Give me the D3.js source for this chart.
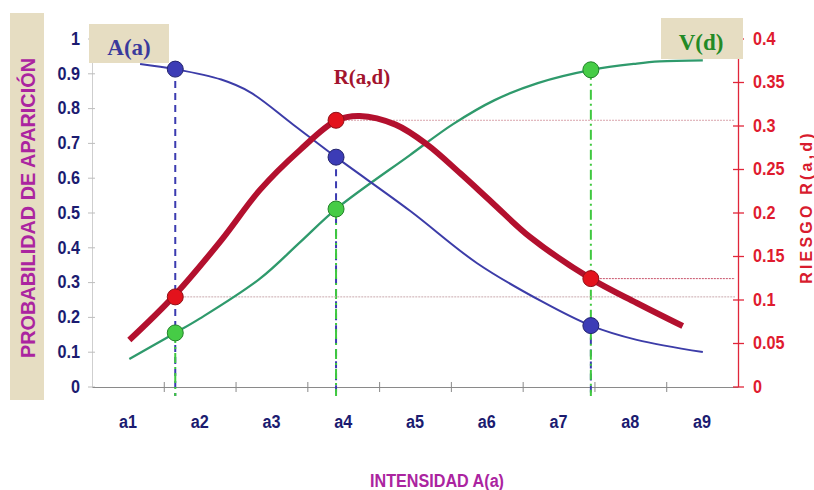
<!DOCTYPE html>
<html><head><meta charset="utf-8">
<script src="https://cdn.jsdelivr.net/npm/d3@7"></script>
<style>
body{margin:0;background:#fff;}
.cond{font-family:"Liberation Sans",Arial,sans-serif;font-weight:bold;}
.serif{font-family:"Liberation Serif","Times New Roman",serif;font-weight:bold;}
</style>
</head><body>
<svg id="c" width="814" height="490"></svg>
<script>
// ---- data ----
const categories = ["a1","a2","a3","a4","a5","a6","a7","a8","a9"];
const leftTicks = [0,0.1,0.2,0.3,0.4,0.5,0.6,0.7,0.8,0.9,1];
const leftTickLabels = ["0","0.1","0.2","0.3","0.4","0.5","0.6","0.7","0.8","0.9","1"];
const rightTicks = [0,0.05,0.1,0.15,0.2,0.25,0.3,0.35,0.4];
const rightTickLabels = ["0","0.05","0.1","0.15","0.2","0.25","0.3","0.35","0.4"];
const boundaryTicks = [1.5,2.5,3.5,4.5,5.5,6.5,7.5,8.5];

// A(a) – probability (left axis), x in category units
const aX = [1.17, 1.66, 2.30, 2.70, 3.30, 3.90, 4.93, 5.86, 6.78, 7.45, 8.09, 9.01];
const aV = [0.927, 0.912, 0.882, 0.846, 0.753, 0.659, 0.505, 0.355, 0.243, 0.175, 0.134, 0.099];
// V(d) – probability (left axis)
const vX = [1.02, 1.66, 2.0, 2.84, 3.40, 3.90, 4.93, 5.53, 6.11, 6.71, 7.46, 8.09, 8.41, 9.01];
const vV = [0.079, 0.154, 0.195, 0.310, 0.415, 0.510, 0.665, 0.754, 0.823, 0.872, 0.910, 0.928, 0.934, 0.937];
// R(a,d) – risk (right axis)
const rX = [1.02, 1.63, 2.30, 2.84, 3.40, 3.91, 4.23, 4.73, 5.17, 5.63, 6.08, 6.60, 7.45, 8.09, 8.73];
const rV = [0.0534, 0.103, 0.168, 0.226, 0.272, 0.306, 0.311, 0.301, 0.278, 0.245, 0.211, 0.172, 0.124, 0.096, 0.0695];
// marked points
const markX = [1.66, 3.90, 7.45];
const markA = [0.912, 0.659, 0.175];
const markR = [0.103, 0.306, 0.124];
const markV = [0.154, 0.510, 0.910];

// ---- drawing ----
const svg = d3.select("#c");
const x = d3.scaleLinear().domain([0.5, 9.5]).range([92, 738]);
const xb = d3.scaleBand().domain(categories).range([92, 738]);
const yL = d3.scaleLinear().domain([0, 1]).range([386.5, 38.5]);
const yR = d3.scaleLinear().domain([0, 0.4]).range([386.5, 38.5]);

function squeeze(sel, k){
  sel.each(function(){
    const L = this.getComputedTextLength();
    d3.select(this).attr("textLength", L*k).attr("lengthAdjust","spacingAndGlyphs");
  });
}

// left title box
svg.append("rect").attr("x",10).attr("y",13).attr("width",34).attr("height",387).attr("fill","#e6ddc2");
svg.append("text").attr("class","cond")
  .attr("transform","translate(35,208) rotate(-90)")
  .attr("text-anchor","middle").attr("font-size",20).attr("fill","#ab24a0")
  .attr("textLength",300).attr("lengthAdjust","spacingAndGlyphs")
  .text("PROBABILIDAD DE APARICIÓN");

// left axis
const gL = svg.append("g").attr("transform","translate(92,0)")
  .call(d3.axisLeft(yL).tickValues(leftTicks).tickFormat((d,i)=>leftTickLabels[i]).tickSizeInner(5).tickSizeOuter(0).tickPadding(7));
gL.select(".domain").attr("stroke","#cfcfcf");
gL.selectAll(".tick line").attr("stroke","#bdbdbd").attr("x2",-4).attr("x1",3);
gL.selectAll("text").attr("class","cond").attr("font-size",18).attr("fill","#1b1b70");
squeeze(gL.selectAll("text"), 0.9);

// x axis
const gX = svg.append("g").attr("transform","translate(0,387)")
  .call(d3.axisBottom(x).tickValues(boundaryTicks).tickFormat("").tickSizeInner(5).tickSizeOuter(0));
gX.select(".domain").attr("stroke","#8a8a8a");
gX.selectAll(".tick line").attr("stroke","#8a8a8a").attr("y1",-5).attr("y2",5);
const gXL = svg.append("g").attr("transform","translate(0,387)")
  .call(d3.axisBottom(xb).tickSize(0).tickPadding(28));
gXL.select(".domain").remove();
gXL.selectAll("text").attr("class","cond").attr("font-size",18).attr("fill","#1b1b70");
squeeze(gXL.selectAll("text"), 0.9);

svg.append("text").attr("class","cond").attr("x",437).attr("y",487)
  .attr("text-anchor","middle").attr("font-size",18).attr("fill","#ab24a0")
  .attr("textLength",134).attr("lengthAdjust","spacingAndGlyphs")
  .text("INTENSIDAD A(a)");

// right axis
const gR = svg.append("g").attr("transform","translate(738,0)")
  .call(d3.axisRight(yR).tickValues(rightTicks).tickFormat((d,i)=>rightTickLabels[i]).tickSizeInner(6).tickSizeOuter(0).tickPadding(9));
gR.select(".domain").attr("stroke","#e0263a").attr("stroke-width",1.3);
gR.selectAll(".tick line").attr("stroke","#e0263a").attr("x1",-5).attr("stroke-width",1.3);
gR.selectAll("text").attr("class","cond").attr("font-size",18).attr("fill","#df1b2f");
squeeze(gR.selectAll("text"), 0.9);

svg.append("text").attr("class","cond")
  .attr("transform","translate(812,207) rotate(-90)")
  .attr("text-anchor","middle").attr("font-size",16).attr("fill","#d81c2e")
  .attr("letter-spacing",3.2)
  .text("RIESGO R(a,d)");

// vertical guide lines
markX.forEach((mx,i)=>{
  svg.append("line").attr("x1",x(mx)).attr("x2",x(mx)).attr("y1",yL(markA[i])).attr("y2",396)
    .attr("stroke","#3b3bb0").attr("stroke-width",2).attr("stroke-dasharray","7,5");
  svg.append("line").attr("x1",x(mx)).attr("x2",x(mx)).attr("y1",yL(markV[i])).attr("y2",396)
    .attr("stroke","#3fc83f").attr("stroke-width",2).attr("stroke-dasharray","10,4,2,4");
});
// horizontal risk guides
const hColors = ["#c9a9ae","#d8a3ab","#c8526a"];
markX.forEach((mx,i)=>{
  svg.append("line").attr("x1",x(mx)).attr("x2",735).attr("y1",yR(markR[i])).attr("y2",yR(markR[i]))
    .attr("stroke",hColors[i]).attr("stroke-width",1).attr("stroke-dasharray","2,1");
});

// curves
const line = (xs, vs, ys) => d3.line().curve(d3.curveCatmullRom.alpha(0.5)).x((d,i)=>x(xs[i])).y((d,i)=>ys(vs[i]))(vs);
svg.append("path").attr("d",line(vX,vV,yL)).attr("fill","none").attr("stroke","#2f9a6c").attr("stroke-width",2.3);
svg.append("path").attr("d",line(aX,aV,yL)).attr("fill","none").attr("stroke","#3c3ca8").attr("stroke-width",2);
svg.append("path").attr("d",line(rX,rV,yR)).attr("fill","none").attr("stroke","#b3102e").attr("stroke-width",6).attr("stroke-linecap","butt");

// points
markX.forEach((mx,i)=>{
  svg.append("circle").attr("cx",x(mx)).attr("cy",yL(markA[i])).attr("r",8).attr("fill","#3c3cb6").attr("stroke","#23236e").attr("stroke-width",1);
  svg.append("circle").attr("cx",x(mx)).attr("cy",yR(markR[i])).attr("r",8).attr("fill","#e3121c").attr("stroke","#8e1018").attr("stroke-width",1);
  svg.append("circle").attr("cx",x(mx)).attr("cy",yL(markV[i])).attr("r",8).attr("fill","#46cc46").attr("stroke","#23822a").attr("stroke-width",1);
});

// legend boxes / labels
svg.append("rect").attr("x",89).attr("y",24).attr("width",80).attr("height",39).attr("fill","#e6ddc2");
svg.append("text").attr("class","serif").attr("x",129).attr("y",55).attr("text-anchor","middle")
  .attr("font-size",23).attr("fill","#3a3a9c").text("A(a)");
svg.append("rect").attr("x",661).attr("y",18).attr("width",82).attr("height",41).attr("fill","#e6ddc2");
svg.append("text").attr("class","serif").attr("x",701).attr("y",50).attr("text-anchor","middle")
  .attr("font-size",23).attr("fill","#238a26").text("V(d)");
svg.append("text").attr("class","serif").attr("x",362).attr("y",84).attr("text-anchor","middle")
  .attr("font-size",21).attr("fill","#a3142e").text("R(a,d)");
</script>
</body></html>
